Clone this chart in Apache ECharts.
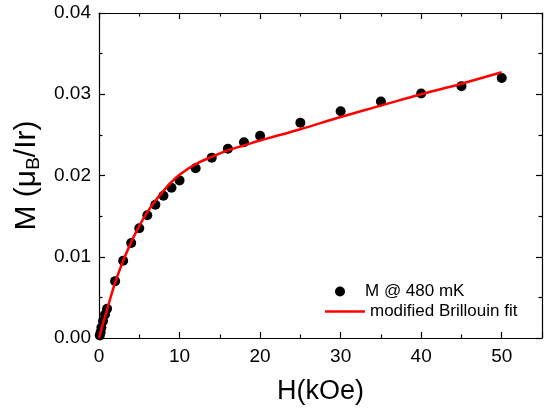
<!DOCTYPE html>
<html><head><meta charset="utf-8">
<script src="https://cdn.jsdelivr.net/npm/echarts@6/dist/echarts.min.js"></script>
<style>html,body{margin:0;padding:0;background:#fff}#c{width:551px;height:410px}</style>
</head><body><div id="c"></div>
<script>
// Measured data: M @ 480 mK
const fieldH = [0.1, 0.2, 0.3, 0.5, 0.75, 1, 2, 3, 4, 5, 6, 7, 8, 9, 10, 12, 14, 16, 18, 20, 25, 30, 35, 40, 45, 50];
const momentM = [0.0003, 0.0007, 0.0013, 0.0021, 0.0029, 0.0036, 0.0070, 0.0095, 0.0117, 0.0135, 0.0151, 0.0164, 0.0175, 0.0185, 0.0194, 0.0209, 0.0222, 0.0233, 0.0241, 0.0249, 0.0265, 0.0279, 0.0291, 0.0301, 0.0310, 0.0320];
// Modified Brillouin fit curve
const fitH = [0, 0.5, 1, 1.5, 2, 3, 4, 5, 6, 7, 8, 9, 10, 12, 14, 16, 18, 20, 25, 30, 35, 40, 45, 50];
const fitM = [0, 0.0018, 0.0035, 0.0052, 0.0068, 0.0095, 0.0118, 0.0138, 0.0155, 0.0169, 0.0181, 0.0192, 0.0201, 0.0214, 0.0223, 0.0231, 0.0237, 0.0243, 0.0257, 0.0272, 0.0286, 0.0300, 0.0313, 0.0327];
const xRange = [0, 55];
const yRange = [0, 0.04];
const seriesNames = ['M @ 480 mK', 'modified Brillouin fit'];

const font = 'Liberation Sans, Arial, sans-serif';
const chart = echarts.init(document.getElementById('c'));
const xCommon = {
  type: 'value', min: xRange[0], max: xRange[1], interval: 10,
  axisLine: {show: true, onZero: false, lineStyle: {color: '#000', width: 1.2}},
  axisTick: {show: true, inside: true, length: 6, lineStyle: {color: '#000', width: 1.2}},
  minorTick: {show: true, splitNumber: 2, length: 3.5, lineStyle: {color: '#000', width: 1.2}},
  splitLine: {show: false}
};
const yCommon = {
  type: 'value', min: yRange[0], max: yRange[1], interval: 0.01,
  axisLine: {show: true, onZero: false, lineStyle: {color: '#000', width: 1.2}},
  axisTick: {show: true, inside: true, length: 6, lineStyle: {color: '#000', width: 1.2}},
  minorTick: {show: true, splitNumber: 2, length: 3.5, lineStyle: {color: '#000', width: 1.2}},
  splitLine: {show: false}
};
chart.setOption({
  animation: false,
  backgroundColor: '#fff',
  grid: {left: 99, right: 9, top: 13, bottom: 71, containLabel: false},
  xAxis: [
    Object.assign({}, xCommon, {
      position: 'bottom',
      axisLabel: {show: true, color: '#000', fontSize: 19, fontFamily: font, margin: 9, showMaxLabel: false},
      name: 'H(kOe)', nameLocation: 'middle', nameGap: 40,
      nameTextStyle: {color: '#000', fontSize: 27, fontFamily: font}
    }),
    Object.assign({}, xCommon, {position: 'top', axisLabel: {show: false}})
  ],
  yAxis: [
    Object.assign({}, yCommon, {
      position: 'left',
      axisLabel: {show: true, color: '#000', fontSize: 19, fontFamily: font, margin: 8,
        formatter: v => v.toFixed(2)},
      name: '{a|M (μ}{s|B}{a|/Ir)}', nameLocation: 'middle', nameGap: 56,
      nameTextStyle: {color: '#000', fontFamily: font,
        rich: {
          a: {fontSize: 30, fontFamily: font, color: '#000'},
          s: {fontSize: 19, fontFamily: font, color: '#000', padding: [14, 0, 0, 0]}
        }}
    }),
    Object.assign({}, yCommon, {position: 'right', axisLabel: {show: false}})
  ],
  legend: [
    {data: [seriesNames[0]], left: 330, top: 278, itemWidth: 40, itemHeight: 10, orient: 'vertical',
      textStyle: {color: '#000', fontSize: 17, fontFamily: font}},
    {data: [{name: seriesNames[1], icon: 'rect'}], left: 320, top: 298, itemWidth: 40, itemHeight: 2.5, orient: 'vertical',
      textStyle: {color: '#000', fontSize: 17, fontFamily: font}}
  ],
  series: [
    {
      name: seriesNames[0], type: 'scatter', symbol: 'circle', symbolSize: 10,
      itemStyle: {color: '#000', opacity: 1}, clip: false, z: 2,
      data: fieldH.map((h, i) => [h, momentM[i]])
    },
    {
      name: seriesNames[1], type: 'line', smooth: 0.4, showSymbol: false, symbol: 'none',
      lineStyle: {color: '#ff0000', width: 2.5}, itemStyle: {color: '#ff0000'}, z: 3,
      data: fitH.map((h, i) => [h, fitM[i]])
    }
  ]
});
</script></body></html>
